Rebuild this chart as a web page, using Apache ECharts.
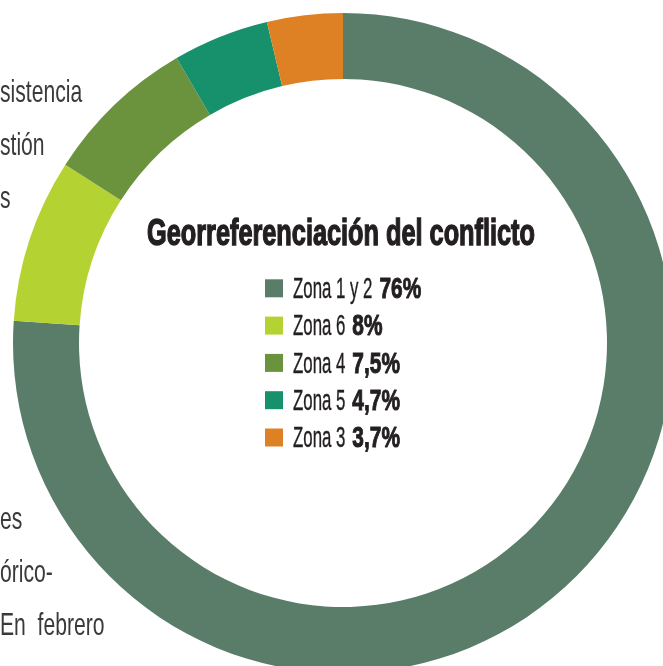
<!DOCTYPE html>
<html>
<head>
<meta charset="utf-8">
<script src="https://cdn.jsdelivr.net/npm/echarts@6/dist/echarts.min.js"></script>
<style>
  html, body { margin: 0; padding: 0; background: #fff; }
  #chart { width: 663px; height: 666px; }
</style>
</head>
<body>
<div id="chart"></div>
<script>
// zonas del conflicto, en el orden del anillo (sentido horario desde arriba)
var zonas = ['Zona 1 y 2', 'Zona 6', 'Zona 4', 'Zona 5', 'Zona 3'];
var porcentajes = [76, 8, 7.5, 4.7, 3.7];
var etiquetas = ['76%', '8%', '7,5%', '4,7%', '3,7%'];
var colores = ['#5a7d69', '#b4d332', '#6b933d', '#17906c', '#de8125'];

// restos del texto del articulo que asoman a la izquierda
var textoFondo = ['sistencia', 'stión', 's', 'es', 'órico-', 'En  febrero'];
var textoBase = [104, 157, 210, 531, 584, 637];

var FUENTE = '"Liberation Sans", Arial, sans-serif';
var TINTA = '#231f20';

// no hay fuente condensada instalada: se mide y se comprime en horizontal
var ctx = document.createElement('canvas').getContext('2d');
function ancho(txt, font) {
    ctx.font = font;
    return ctx.measureText(txt).width;
}

var mychart = echarts.init(document.getElementById('chart'));

var datos = zonas.map(function (z, i) {
    return { name: z, value: porcentajes[i], itemStyle: { color: colores[i] } };
});

var elementos = [];

// texto de fondo
textoFondo.forEach(function (t, i) {
    elementos.push({
        type: 'text', x: 0, y: textoBase[i] - 11, scaleX: 0.66, z: -1, silent: true,
        style: {
            text: t, x: 0, y: 0, fontSize: 32, fontFamily: FUENTE,
            fill: '#3a3a3a', verticalAlign: 'middle'
        }
    });
});

// titulo (grueso, como una condensada black)
var tituloTxt = 'Georreferenciación del conflicto';
elementos.push({
    type: 'text', x: 147, y: 235.5,
    scaleX: 388 / ancho(tituloTxt, 'bold 36px ' + FUENTE), silent: true,
    style: {
        text: tituloTxt, x: 0, y: 0, fontSize: 36, fontWeight: 'bold', fontFamily: FUENTE,
        fill: TINTA, stroke: TINTA, lineWidth: 1.4, verticalAlign: 'middle'
    }
});

// leyenda
var escNombre = 0.58, escValor = 0.72;
zonas.forEach(function (z, i) {
    var top = 279.3 + 37.3 * i;
    var xv = 293 + ancho(z, '29px ' + FUENTE) * escNombre + 7;
    elementos.push({
        type: 'rect', silent: true,
        shape: { x: 265, y: top, width: 18, height: 18 },
        style: { fill: colores[i] }
    });
    elementos.push({
        type: 'text', x: 293, y: top + 10.7, scaleX: escNombre, silent: true,
        style: {
            text: z, x: 0, y: 0, fontSize: 29, fontFamily: FUENTE,
            fill: TINTA, stroke: TINTA, lineWidth: 0.4, verticalAlign: 'middle'
        }
    });
    elementos.push({
        type: 'text', x: xv, y: top + 10.7, scaleX: escValor, silent: true,
        style: {
            text: etiquetas[i], x: 0, y: 0, fontSize: 29, fontWeight: 'bold', fontFamily: FUENTE,
            fill: TINTA, stroke: TINTA, lineWidth: 1, verticalAlign: 'middle'
        }
    });
});

var option = {
    backgroundColor: '#fff',
    animation: false,
    graphic: elementos,
    series: [{
        type: 'pie',
        center: [343, 343],
        radius: [264, 330],
        startAngle: 90,
        clockwise: true,
        label: { show: false },
        labelLine: { show: false },
        emphasis: { disabled: true },
        data: datos
    }]
};
mychart.setOption(option);
</script>
</body>
</html>
